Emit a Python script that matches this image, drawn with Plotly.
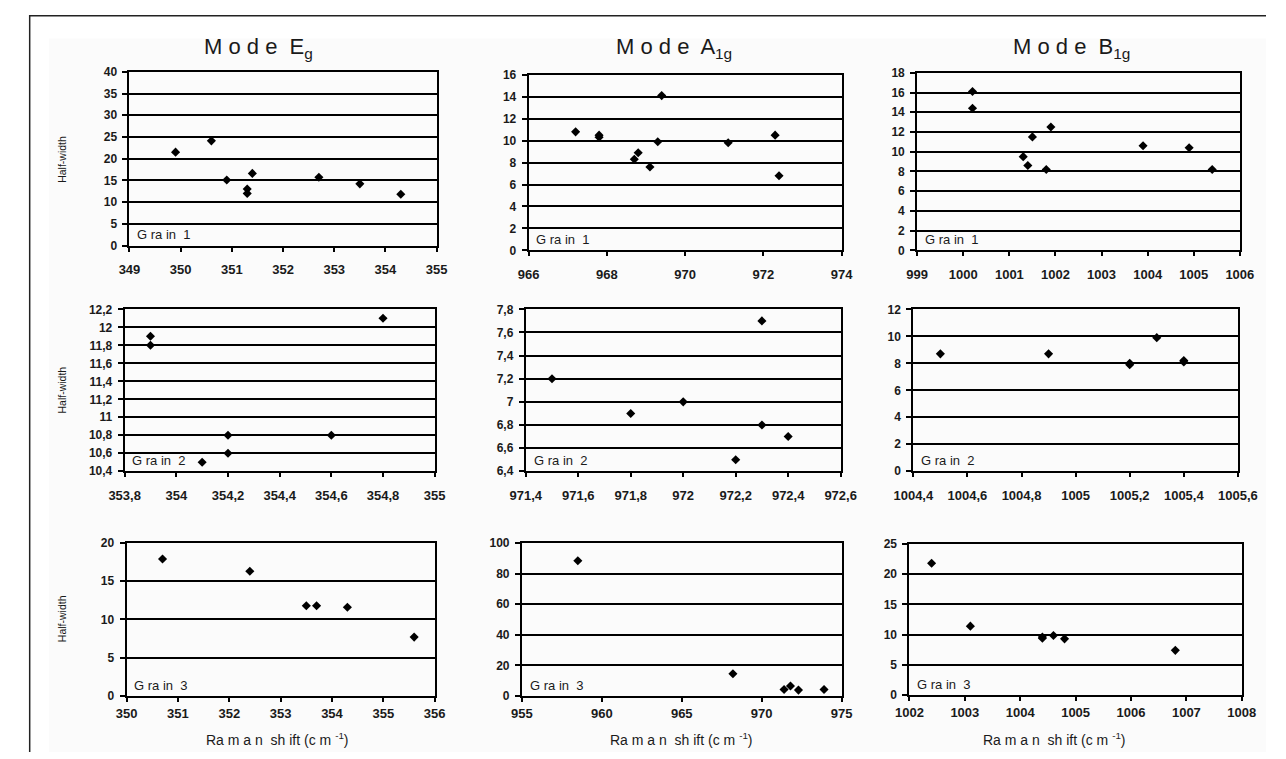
import plotly.graph_objects as go

W, H = 1286, 759

# ---- data ----
eg_g1_x = [349.9, 350.6, 350.9, 351.3, 351.3, 351.4, 352.7, 353.5, 354.3]
eg_g1_y = [21.5, 24.1, 15.1, 13.0, 12.0, 16.6, 15.7, 14.2, 11.8]
a1g_g1_x = [967.2, 967.8, 967.8, 968.7, 968.8, 969.1, 969.3, 969.4, 971.1, 972.3, 972.4]
a1g_g1_y = [10.8, 10.3, 10.5, 8.3, 8.9, 7.6, 9.9, 14.1, 9.8, 10.5, 6.8]
b1g_g1_x = [1000.2, 1000.2, 1001.3, 1001.4, 1001.5, 1001.8, 1001.9, 1003.9, 1004.9, 1005.4]
b1g_g1_y = [16.1, 14.4, 9.5, 8.6, 11.5, 8.2, 12.5, 10.6, 10.4, 8.2]

eg_g2_x = [353.9, 353.9, 354.1, 354.2, 354.2, 354.6, 354.8]
eg_g2_y = [11.9, 11.8, 10.5, 10.8, 10.6, 10.8, 12.1]
a1g_g2_x = [971.5, 971.8, 972.0, 972.2, 972.3, 972.3, 972.4]
a1g_g2_y = [7.2, 6.9, 7.0, 6.5, 7.7, 6.8, 6.7]
b1g_g2_x = [1004.5, 1004.9, 1005.2, 1005.2, 1005.3, 1005.4, 1005.4]
b1g_g2_y = [8.7, 8.7, 7.9, 8.0, 9.9, 8.2, 8.1]

eg_g3_x = [350.7, 352.4, 353.5, 353.7, 354.3, 355.6]
eg_g3_y = [17.9, 16.3, 11.8, 11.8, 11.6, 7.7]
a1g_g3_x = [958.5, 968.2, 971.4, 971.8, 972.3, 973.9]
a1g_g3_y = [88.4, 14.6, 4.3, 6.6, 3.9, 4.3]
b1g_g3_x = [1002.4, 1003.1, 1004.4, 1004.4, 1004.6, 1004.8, 1006.8]
b1g_g3_y = [21.8, 11.4, 9.4, 9.6, 9.85, 9.3, 7.4]

mode_titles = ["M o d e  E<sub>g</sub>", "M o d e  A<sub>1g</sub>", "M o d e  B<sub>1g</sub>"]
grain_labels = ["G ra in  1", "G ra in  2", "G ra in  3"]
ylabel = "Half-width"
xlabel = "Ra m a n  sh ift (c m <sup>-1</sup>)"

series = [
    (eg_g1_x, eg_g1_y), (a1g_g1_x, a1g_g1_y), (b1g_g1_x, b1g_g1_y),
    (eg_g2_x, eg_g2_y), (a1g_g2_x, a1g_g2_y), (b1g_g2_x, b1g_g2_y),
    (eg_g3_x, eg_g3_y), (a1g_g3_x, a1g_g3_y), (b1g_g3_x, b1g_g3_y),
]
xranges = [(349, 355, 1), (966, 974, 2), (999, 1006, 1),
           (353.8, 355, 0.2), (971.4, 972.6, 0.2), (1004.4, 1005.6, 0.2),
           (350, 356, 1), (955, 975, 5), (1002, 1008, 1)]
yranges = [(0, 40, 5), (0, 16, 2), (0, 18, 2),
           (10.4, 12.2, 0.2), (6.4, 7.8, 0.2), (0, 12, 2),
           (0, 20, 5), (0, 100, 20), (0, 25, 5)]

# ---- layout (pixel boxes of plot areas) ----
boxes = [(113, 430, 66, 243), (525, 848, 69, 248), (926, 1259, 67, 248),
         (108, 428, 308, 473), (522, 847, 308, 473), (922, 1257, 308, 473),
         (110, 428, 546, 702), (518, 848, 546, 702), (918, 1261, 547, 701)]

FAM = "Arial, Liberation Sans, sans-serif"
fig = go.Figure()
xfont = dict(family=FAM, size=13, color="#1a1a1a", weight="bold")
yfont = dict(family=FAM, size=12, color="#1a1a1a", weight="bold")
layout = dict(
    width=W, height=H, margin=dict(l=0, r=0, t=0, b=0),
    paper_bgcolor="white", plot_bgcolor="rgba(0,0,0,0)",
    showlegend=False, separators=",.",
    font=dict(family=FAM, color="#1a1a1a"),
)

annotations = []
for i, ((xs, ys), (x0, x1, dx), (y0, y1, dy), (l, r, t, b)) in enumerate(zip(series, xranges, yranges, boxes)):
    n = i + 1
    row = i // 3
    xa = "x" if n == 1 else f"x{n}"
    ya = "y" if n == 1 else f"y{n}"
    fig.add_trace(go.Scatter(x=xs, y=ys, mode="markers", xaxis=xa, yaxis=ya,
                             marker=dict(symbol="diamond", size=7, color="black")))
    layout["xaxis" if n == 1 else f"xaxis{n}"] = dict(
        domain=[l / W, r / W], anchor=ya, range=[x0, x1], dtick=dx, tick0=x0,
        tickformat=".1~f",
        showgrid=False, zeroline=False, showline=True, linecolor="black", linewidth=2,
        mirror=True, ticks="outside", ticklen=4, tickwidth=1.5, tickcolor="black",
        ticklabelstandoff=(7 if row < 2 else 0), tickfont=xfont)
    layout["yaxis" if n == 1 else f"yaxis{n}"] = dict(
        domain=[1 - b / H, 1 - t / H], anchor=xa, range=[y0, y1], dtick=dy, tick0=y0,
        tickformat=".1~f",
        showgrid=True, gridcolor="black", gridwidth=2, zeroline=False,
        showline=True, linecolor="black", linewidth=2, mirror=True,
        ticks="outside", ticklen=5, tickwidth=1.5, tickcolor="black",
        ticklabelstandoff=3, tickfont=yfont)
    annotations.append(dict(text=grain_labels[row], x=(l + 6) / W, y=1 - (b - 11) / H,
                            xref="paper", yref="paper", xanchor="left", yanchor="middle",
                            showarrow=False, font=dict(size=13)))

title_x = [246, 675, 1085]
for j, tx in enumerate(title_x):
    annotations.append(dict(text=mode_titles[j], x=tx / W, y=1 - 42 / H, xref="paper", yref="paper",
                            xanchor="center", yanchor="middle", showarrow=False, font=dict(size=22)))
for yc in [155, 390, 623]:
    annotations.append(dict(text=ylabel, x=43 / W, y=1 - yc / H, xref="paper", yref="paper",
                            xanchor="center", yanchor="middle", textangle=-90, showarrow=False,
                            font=dict(size=10.5)))
for xc in [266, 683, 1068]:
    annotations.append(dict(text=xlabel, x=xc / W, y=1 - 746 / H, xref="paper", yref="paper",
                            xanchor="center", yanchor="middle", showarrow=False, font=dict(size=14)))
layout["annotations"] = annotations

layout["shapes"] = [
    dict(type="rect", xref="paper", yref="paper", x0=30 / W, x1=1, y0=0, y1=1 - 32 / H,
         fillcolor="#fbfbfb", line=dict(width=0), layer="below"),
    dict(type="path", xref="paper", yref="paper",
         path=f"M {10 / W} 0 L {10 / W} {1 - 9 / H} L 1 {1 - 9 / H}",
         line=dict(color="#222", width=1.5)),
]
fig.update_layout(**layout)
fig.write_html("out.html")
